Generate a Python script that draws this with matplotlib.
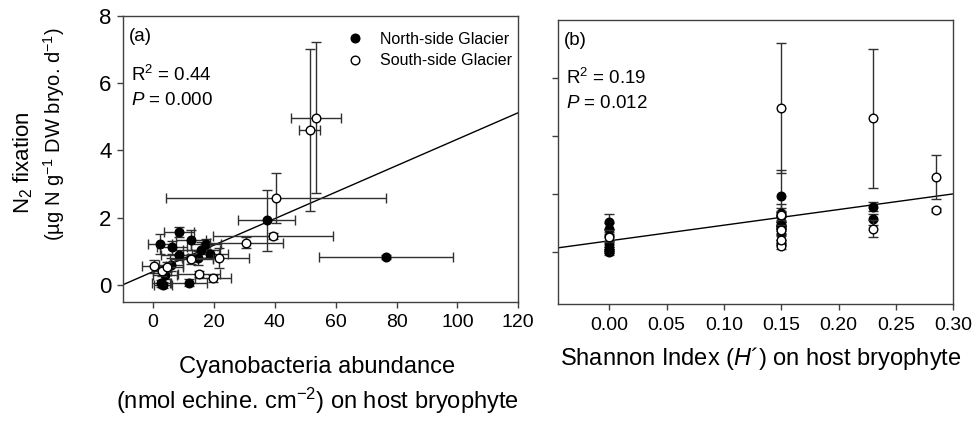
import matplotlib
matplotlib.use("Agg")
import matplotlib.pyplot as plt
from matplotlib.lines import Line2D
import numpy as np

plt.rcParams['font.family'] = ['Liberation Sans', 'DejaVu Sans']
plt.rcParams['mathtext.fontset'] = 'custom'
plt.rcParams['mathtext.rm'] = 'Liberation Sans'
plt.rcParams['mathtext.it'] = 'Liberation Sans:italic'
plt.rcParams['mathtext.default'] = 'regular'

# North-side Glacier samples
n_abund = [76.5, 37.3, 8.6, 12.5, 2.2, 6.2, 17.3, 15.9, 18.7, 8.6, 14.6, 5.8, 2.5, 3.3, 11.8, 4.0]
n_abund_err = [22, 9.3, 5, 5, 4, 5, 5, 6, 6, 6, 5, 4, 3, 3, 6, 4]
n_fix = [0.83, 1.92, 1.56, 1.34, 1.22, 1.12, 1.22, 1.04, 0.93, 0.88, 0.80, 0.60, 0.05, 0.0, 0.07, 0.28]
n_fix_err = [0.05, 0.9, 0.15, 0.3, 0.3, 0.2, 0.15, 0.25, 0.1, 0.15, 0.2, 0.2, 0.1, 0.1, 0.1, 0.1]
n_shannon = [0.15, 0.15, 0.23, 0.15, 0.15, 0.23, 0.15, 0.0, 0.15, 0.15, 0.0, 0.15, 0.0, 0.0, 0.0, 0.0]

# South-side Glacier samples
s_abund = [53.5, 51.5, 40.4, 39.3, 30.7, 21.6, 12.6, 15.1, 19.7, 0.3, 3.0, 4.7]
s_abund_err = [8.2, 3.4, 36, 19.7, 12, 10, 7, 7, 6, 4, 3, 5]
s_fix = [4.97, 4.61, 2.59, 1.45, 1.26, 0.80, 0.76, 0.32, 0.19, 0.55, 0.40, 0.52]
s_fix_err = [2.25, 2.4, 0.75, 0.08, 0.15, 0.3, 0.15, 0.1, 0.1, 0.2, 0.15, 0.15]
s_shannon = [0.15, 0.23, 0.285, 0.285, 0.15, 0.23, 0.15, 0.15, 0.15, 0.0, 0.15, 0.0]

# regression lines
fit_a = (0.394, 0.0394)   # intercept, slope
fit_b = (0.38, 5.4)

xticks_a = [0, 20, 40, 60, 80, 100, 120]
yticks = [0, 2, 4, 6, 8]
xticks_b = [0.00, 0.05, 0.10, 0.15, 0.20, 0.25, 0.30]

fig = plt.figure(figsize=(9.75, 4.23), dpi=100)
ax1 = fig.add_axes([0.1258, 0.2868, 0.4057, 0.6754])
ax2 = fig.add_axes([0.572, 0.2813, 0.4057, 0.6714])

ecol = '#303030'
ms = 6.2
lab_fs = 17
txt_fs = 13.5

for ax in (ax1, ax2):
    for sp in ax.spines.values():
        sp.set_color('#404040')
        sp.set_linewidth(1.0)
    ax.tick_params(direction='out', length=4, width=1, color='#404040')

# panel (a)
ax1.errorbar(n_abund, n_fix, xerr=n_abund_err, yerr=n_fix_err, fmt='o', color='black',
             mfc='black', mec='black', ms=ms, ecolor=ecol, elinewidth=1, capsize=3.5, capthick=1,
             zorder=3)
ax1.errorbar(s_abund, s_fix, xerr=s_abund_err, yerr=s_fix_err, fmt='o', color='black',
             mfc='white', mec='black', ms=ms, ecolor=ecol, elinewidth=1, capsize=3.5, capthick=1,
             zorder=4)
xl = np.array([-10, 120])
ax1.plot(xl, fit_a[0] + fit_a[1] * xl, color='black', lw=1, zorder=2)
ax1.set_xlim(-10, 120)
ax1.set_ylim(-0.5, 8)
ax1.set_xticks(xticks_a)
ax1.set_yticks(yticks)
ax1.tick_params(axis='x', labelsize=14, pad=5)
ax1.tick_params(axis='y', labelsize=16, pad=4)
handles = [Line2D([], [], ls='', marker='o', ms=ms, mfc='black', mec='black'),
           Line2D([], [], ls='', marker='o', ms=ms, mfc='white', mec='black')]
ax1.legend(handles, ['North-side Glacier', 'South-side Glacier'], loc='upper left',
           bbox_to_anchor=(0.567, 0.945), frameon=False, fontsize=11.5,
           handletextpad=1.06, borderpad=0, borderaxespad=0, labelspacing=0.42, handlelength=1.0)
ax1.text(0.015, 0.958, '(a)', transform=ax1.transAxes, fontsize=txt_fs, va='top', ha='left')
ax1.text(0.022, 0.83, 'R$^2$ = 0.44', transform=ax1.transAxes, fontsize=txt_fs, va='top', ha='left')
ax1.text(0.022, 0.735, '$\\mathit{P}$ = 0.000', transform=ax1.transAxes, fontsize=txt_fs, va='top', ha='left')

# panel (b)
ax2.errorbar(n_shannon, n_fix, yerr=n_fix_err, fmt='o', color='black', mfc='black', mec='black',
             ms=ms, ecolor=ecol, elinewidth=1, capsize=3.5, capthick=1, zorder=3)
ax2.errorbar(s_shannon, s_fix, yerr=s_fix_err, fmt='o', color='black', mfc='white', mec='black',
             ms=ms, ecolor=ecol, elinewidth=1, capsize=3.5, capthick=1, zorder=4)
xb = np.array([-0.045, 0.30])
ax2.plot(xb, fit_b[0] + fit_b[1] * xb, color='black', lw=1, zorder=2)
ax2.set_xlim(-0.045, 0.30)
ax2.set_ylim(-1.8, 8)
ax2.set_xticks(xticks_b)
ax2.set_xticklabels(['%.2f' % v for v in xticks_b])
ax2.set_yticks([0, 2, 4, 6])
ax2.set_yticklabels([])
ax2.tick_params(axis='x', labelsize=14, pad=5)
ax2.text(0.015, 0.958, '(b)', transform=ax2.transAxes, fontsize=txt_fs, va='top', ha='left')
ax2.text(0.022, 0.83, 'R$^2$ = 0.19', transform=ax2.transAxes, fontsize=txt_fs, va='top', ha='left')
ax2.text(0.022, 0.735, '$\\mathit{P}$ = 0.012', transform=ax2.transAxes, fontsize=txt_fs, va='top', ha='left')

# axis labels
fig.text(23 / 975, 1 - 163 / 423, 'N$_2$ fixation', rotation=90, ha='center', va='center', fontsize=16)
fig.text(54 / 975, 1 - 134 / 423, '(µg N g$^{-1}$ DW bryo. d$^{-1}$)', rotation=90,
         ha='center', va='center', fontsize=14.5)
fig.text(317 / 975, 1 - 367 / 423, 'Cyanobacteria abundance', ha='center', va='center', fontsize=lab_fs)
fig.text(317 / 975, 1 - 401 / 423, '(nmol echine. cm$^{-2}$) on host bryophyte', ha='center',
         va='center', fontsize=lab_fs)
fig.text(761 / 975, 1 - 358 / 423, 'Shannon Index ($\\mathit{H}$´) on host bryophyte', ha='center',
         va='center', fontsize=lab_fs)

fig.savefig('out.png', dpi=100)
